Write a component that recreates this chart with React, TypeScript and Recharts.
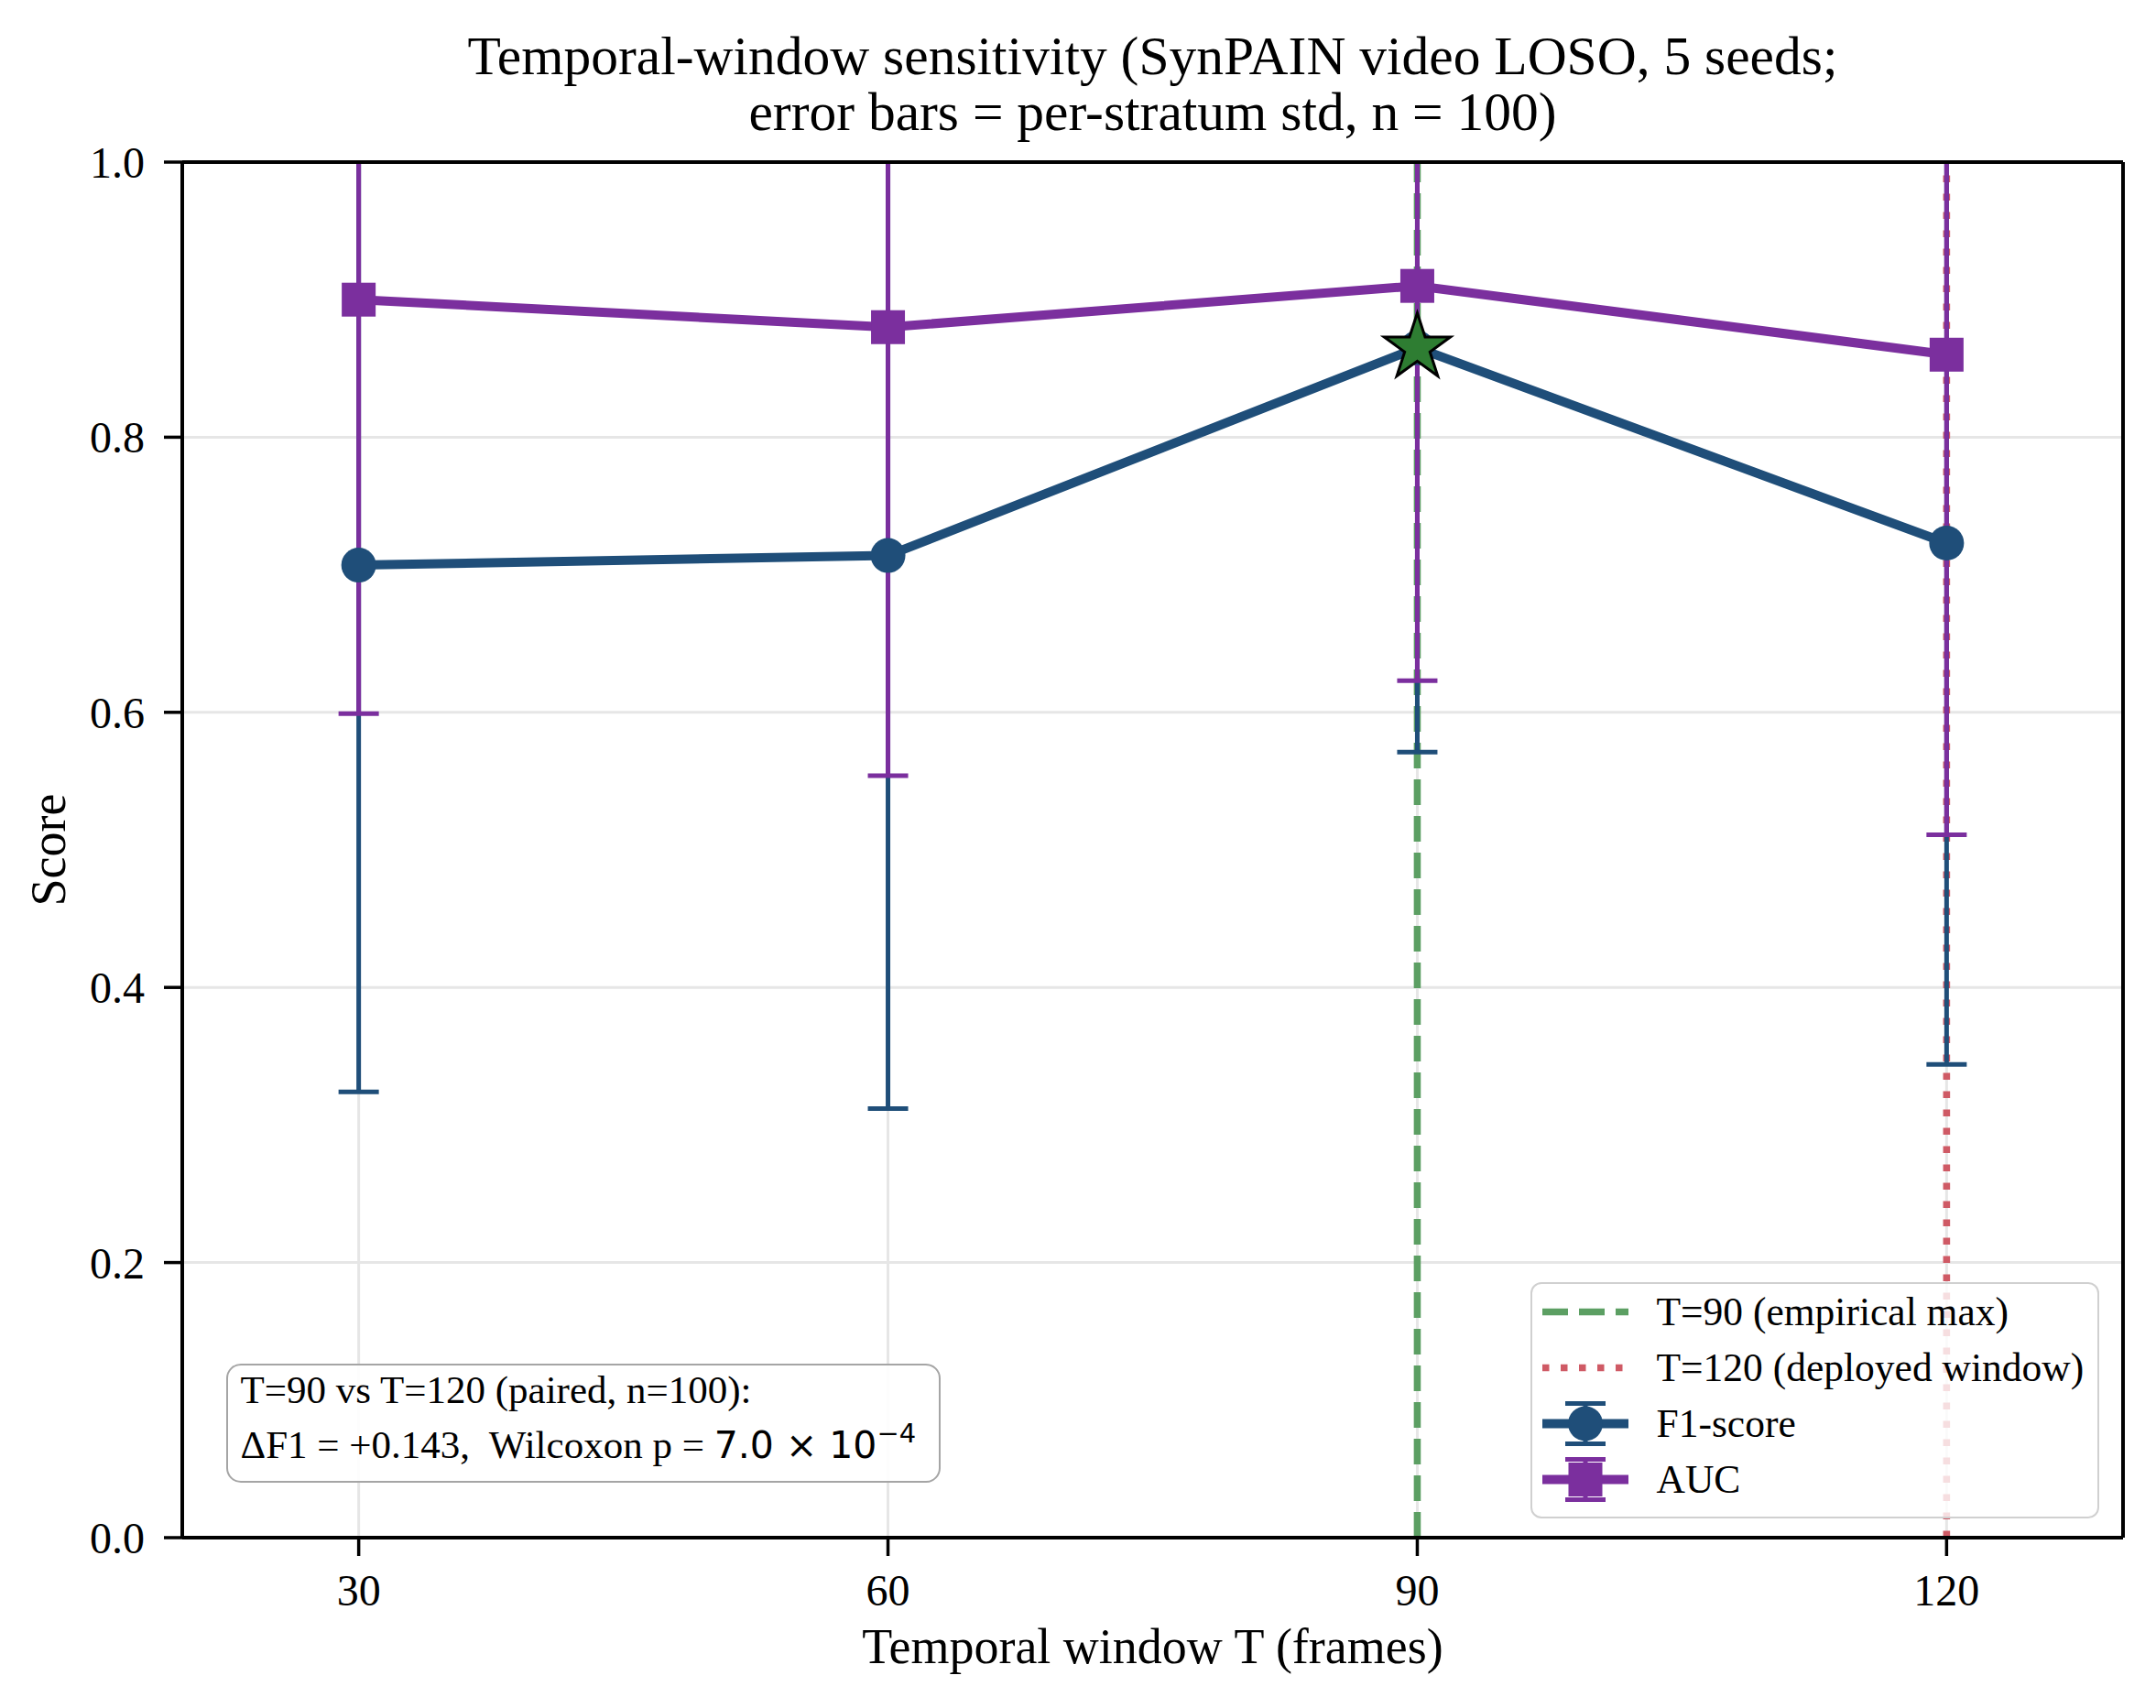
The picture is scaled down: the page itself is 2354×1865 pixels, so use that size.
import React from 'react';
import {
  CartesianGrid,
  ComposedChart,
  ErrorBar,
  Line,
  ReferenceLine,
  XAxis,
  YAxis,
} from 'recharts';

// values
const windows = [30, 60, 90, 120];
const f1Mean = [0.707, 0.714, 0.865, 0.723];
const f1Std = [0.383, 0.402, 0.294, 0.379];
const aucMean = [0.9, 0.88, 0.91, 0.86];
const aucStd = [0.301, 0.326, 0.287, 0.349];

const xTicks = [30, 60, 90, 120];
const yTicks = [0, 0.2, 0.4, 0.6, 0.8, 1.0];
const xDomain = [20, 130];
const yDomain = [0, 1];
const empiricalMaxT = 90;
const deployedT = 120;

const titleLines = [
  'Temporal-window sensitivity (SynPAIN video LOSO, 5 seeds;',
  'error bars = per-stratum std, n = 100)',
];

const data = windows.map((T, i) => ({
  T,
  f1: f1Mean[i],
  f1Err: f1Std[i],
  auc: aucMean[i],
  aucErr: aucStd[i],
  best: T === empiricalMaxT ? f1Mean[i] : null,
}));

const W = 2354;
const H = 1865;
const PLOT = { left: 199, top: 177, right: 2318, bottom: 1679 };
const SERIF = '"Liberation Serif", "Times New Roman", "DejaVu Serif", serif';
const SANS = '"DejaVu Sans", sans-serif';
const BLUE = '#1F4E79';
const PURPLE = '#7B2F9E';
const STAR_GREEN = '#2E7D32';
const VLINE_GREEN = '#5C9F63';
const VLINE_RED = '#CF5A65';
const LINE_W = 10;
const ERR_W = 5;

function starPoints(cx: number, cy: number, R: number, r: number) {
  const pts: string[] = [];
  for (let k = 0; k < 10; k++) {
    const rad = k % 2 === 0 ? R : r;
    const a = -Math.PI / 2 + (k * Math.PI) / 5;
    pts.push(`${cx + rad * Math.cos(a)},${cy + rad * Math.sin(a)}`);
  }
  return pts.join(' ');
}

function LegendHandle({ kind }: { kind: string }) {
  const w = 94;
  const h = 61;
  const cy = h / 2;
  if (kind === 'dash')
    return (
      <svg width={w} height={h}>
        <line x1={0} x2={w} y1={cy} y2={cy} stroke={VLINE_GREEN} strokeWidth={7.6} strokeDasharray="28 12" />
      </svg>
    );
  if (kind === 'dot')
    return (
      <svg width={w} height={h}>
        <line x1={0} x2={w} y1={cy} y2={cy} stroke={VLINE_RED} strokeWidth={7.6} strokeDasharray="7.5 12.5" />
      </svg>
    );
  const color = kind === 'f1' ? BLUE : PURPLE;
  const mx = w / 2;
  return (
    <svg width={w} height={h}>
      <line x1={mx} x2={mx} y1={cy - 22} y2={cy + 22} stroke={color} strokeWidth={ERR_W} />
      <line x1={mx - 22} x2={mx + 22} y1={cy - 22} y2={cy - 22} stroke={color} strokeWidth={ERR_W} />
      <line x1={mx - 22} x2={mx + 22} y1={cy + 22} y2={cy + 22} stroke={color} strokeWidth={ERR_W} />
      <line x1={0} x2={w} y1={cy} y2={cy} stroke={color} strokeWidth={LINE_W} />
      {kind === 'f1' ? (
        <circle cx={mx} cy={cy} r={19} fill={color} />
      ) : (
        <rect x={mx - 18.5} y={cy - 18.5} width={37} height={37} fill={color} />
      )}
    </svg>
  );
}

const legendItems = [
  { kind: 'dash', label: 'T=90 (empirical max)' },
  { kind: 'dot', label: 'T=120 (deployed window)' },
  { kind: 'f1', label: 'F1-score' },
  { kind: 'auc', label: 'AUC' },
];

export default function App() {
  return (
    <div
      style={{
        position: 'absolute',
        left: 0,
        top: 0,
        width: W,
        height: H,
        background: '#fff',
        fontFamily: SERIF,
        color: '#000',
      }}
    >
      {/* error bars run past 1.0 in the original, so clip them to the axes box */}
      <svg width={0} height={0} style={{ position: 'absolute' }}>
        <defs>
          <clipPath id="plot-clip" clipPathUnits="userSpaceOnUse">
            <rect
              x={PLOT.left}
              y={PLOT.top}
              width={PLOT.right - PLOT.left}
              height={PLOT.bottom - PLOT.top}
            />
          </clipPath>
        </defs>
      </svg>

      <div
        style={{
          position: 'absolute',
          left: PLOT.left,
          width: PLOT.right - PLOT.left,
          top: 31,
          textAlign: 'center',
          fontSize: 59.5,
          lineHeight: '61px',
          whiteSpace: 'pre',
        }}
      >
        {titleLines.map((t) => (
          <div key={t}>{t}</div>
        ))}
      </div>

      <ComposedChart
        width={W}
        height={H}
        data={data}
        margin={{ top: PLOT.top, right: W - PLOT.right, bottom: 0, left: 0 }}
        style={{ position: 'absolute', left: 0, top: 0 }}
      >
        <CartesianGrid stroke="#e6e6e6" strokeWidth={3} />
        <XAxis
          dataKey="T"
          type="number"
          domain={xDomain}
          ticks={xTicks}
          height={H - PLOT.bottom}
          tickSize={20}
          tickMargin={20}
          tick={{ fontSize: 48, fill: '#000', fontFamily: SERIF }}
          tickLine={{ stroke: '#000', strokeWidth: 3.5 }}
          axisLine={{ stroke: '#000', strokeWidth: 4 }}
          label={{
            value: 'Temporal window T (frames)',
            position: 'insideBottom',
            offset: 49,
            style: { fontSize: 54, fill: '#000', fontFamily: SERIF },
          }}
        />
        <YAxis
          type="number"
          domain={yDomain}
          allowDataOverflow
          ticks={yTicks}
          width={PLOT.left}
          tickSize={20}
          tickMargin={21}
          tickFormatter={(v: number) => v.toFixed(1)}
          tick={{ fontSize: 48, fill: '#000', fontFamily: SERIF }}
          tickLine={{ stroke: '#000', strokeWidth: 3.5 }}
          axisLine={{ stroke: '#000', strokeWidth: 4 }}
          label={{
            value: 'Score',
            angle: -90,
            position: 'insideLeft',
            offset: 52,
            style: { fontSize: 54, fill: '#000', fontFamily: SERIF, textAnchor: 'middle' },
          }}
        />

        <ReferenceLine
          x={empiricalMaxT}
          stroke={VLINE_GREEN}
          strokeWidth={7.6}
          strokeDasharray="28 12"
          zIndex={100}
        />
        <ReferenceLine
          x={deployedT}
          stroke={VLINE_RED}
          strokeWidth={7.6}
          strokeDasharray="7.5 12.5"
          zIndex={100}
        />

        <Line
          dataKey="f1"
          stroke={BLUE}
          strokeWidth={LINE_W}
          dot={false}
          activeDot={false}
          isAnimationActive={false}
        >
          <ErrorBar
            dataKey="f1Err"
            direction="y"
            width={22}
            stroke={BLUE}
            strokeWidth={ERR_W}
            clipPath="url(#plot-clip)"
          />
        </Line>
        <Line
          dataKey="auc"
          stroke={PURPLE}
          strokeWidth={LINE_W}
          dot={false}
          activeDot={false}
          isAnimationActive={false}
        >
          <ErrorBar
            dataKey="aucErr"
            direction="y"
            width={22}
            stroke={PURPLE}
            strokeWidth={ERR_W}
            clipPath="url(#plot-clip)"
          />
        </Line>
        <Line
          dataKey="f1"
          stroke="none"
          activeDot={false}
          isAnimationActive={false}
          dot={(p: any) => <circle key={`f1-${p.index}`} cx={p.cx} cy={p.cy} r={19} fill={BLUE} />}
        />
        <Line
          dataKey="auc"
          stroke="none"
          activeDot={false}
          isAnimationActive={false}
          dot={(p: any) => (
            <rect key={`auc-${p.index}`} x={p.cx - 18.5} y={p.cy - 18.5} width={37} height={37} fill={PURPLE} />
          )}
        />
        <Line
          dataKey="best"
          stroke="none"
          activeDot={false}
          isAnimationActive={false}
          dot={(p: any) =>
            p.value == null ? (
              <g key={`best-${p.index}`} />
            ) : (
              <polygon
                key={`best-${p.index}`}
                points={starPoints(p.cx, p.cy, 38, 14.5)}
                fill={STAR_GREEN}
                stroke="#000"
                strokeWidth={3}
              />
            )
          }
        />

        {/* top and right spines */}
        <ReferenceLine y={yDomain[1]} stroke="#000" strokeWidth={4} zIndex={1000} />
        <ReferenceLine x={xDomain[1]} stroke="#000" strokeWidth={4} zIndex={1000} />
      </ComposedChart>

      {/* stats annotation */}
      <div
        style={{
          position: 'absolute',
          left: 247,
          top: 1489,
          width: 780,
          height: 130,
          boxSizing: 'border-box',
          border: '2.5px solid #a5a5a5',
          borderRadius: 16,
          background: 'rgba(255,255,255,0.9)',
          fontSize: 43,
          lineHeight: '43px',
          whiteSpace: 'pre',
        }}
      >
        <div style={{ position: 'absolute', left: 13.5, top: 5 }}>T=90 vs T=120 (paired, n=100):</div>
        <div style={{ position: 'absolute', left: 13.5, top: 65 }}>
          {'ΔF1 = +0.143,  Wilcoxon p = '}
          <span style={{ fontFamily: SANS, fontSize: 41 }}>7.0 × 10</span>
          <span style={{ fontFamily: SANS, fontSize: 29, position: 'relative', top: -17 }}>−4</span>
        </div>
      </div>

      {/* legend */}
      <div
        style={{
          position: 'absolute',
          left: 1671,
          top: 1400,
          width: 621,
          height: 258,
          boxSizing: 'border-box',
          border: '2.5px solid #d0d0d0',
          borderRadius: 12,
          background: 'rgba(255,255,255,0.8)',
          fontSize: 43.5,
        }}
      >
        {legendItems.map((it, i) => (
          <div
            key={it.label}
            style={{
              position: 'absolute',
              left: 10.5,
              top: i * 61,
              height: 61,
              display: 'flex',
              alignItems: 'center',
              whiteSpace: 'pre',
            }}
          >
            <LegendHandle kind={it.kind} />
            <span style={{ marginLeft: 31, lineHeight: '61px' }}>{it.label}</span>
          </div>
        ))}
      </div>
    </div>
  );
}
